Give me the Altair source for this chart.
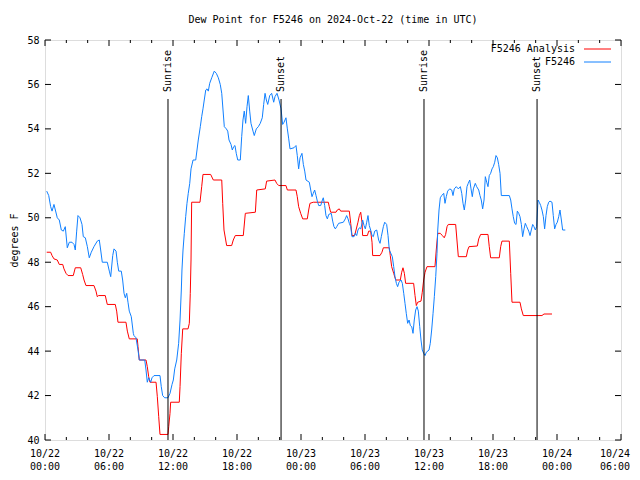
import altair as alt
import pandas as pd

# ---------------- data (hours since 2024-10-22 00:00 UTC, degrees F) ----------------
obs_hours = [0.16, 0.35, 0.53, 0.66, 0.84, 0.97, 1.15, 1.34, 1.53, 1.72, 1.90, 2.09, 2.28, 2.53, 2.72,
             2.84, 2.97, 3.09, 3.28, 3.47, 3.59, 3.78, 3.97, 4.15, 4.34, 4.59, 4.90, 5.09, 5.22, 5.37,
             5.84, 6.03, 6.16, 6.35, 6.47, 6.66, 6.78, 6.91, 7.15, 7.28, 7.41, 7.53, 7.66, 7.78, 7.90,
             8.09, 8.28, 8.34, 8.53, 8.72, 8.84, 9.35, 9.47, 9.59, 9.72, 9.91, 10.03, 10.22, 10.78,
             10.90, 11.03, 11.22, 11.53, 11.72, 11.91, 12.03, 12.16, 12.35, 12.53, 12.66, 12.78, 12.84,
             12.94, 13.06, 13.19, 13.31, 13.43, 13.57, 13.69, 13.88, 14.13, 14.25, 14.37, 14.56, 14.69,
             14.81, 14.93, 15.07, 15.19, 15.31, 15.44, 15.63, 15.87, 16.06, 16.25, 16.43, 16.57, 16.69,
             16.81, 17.00, 17.13, 17.25, 17.44, 17.56, 17.69, 17.81, 17.93, 18.07, 18.31, 18.44, 18.56,
             18.68, 18.75, 18.81, 18.94, 19.06, 19.19, 19.31, 19.50, 19.62, 19.81, 20.00, 20.18, 20.37,
             20.50, 20.63, 20.75, 20.88, 21.07, 21.25, 21.44, 21.56, 21.75, 21.94, 22.13, 22.28, 22.41,
             22.59, 22.72, 22.85, 22.97, 23.34, 23.53, 23.65, 23.78, 23.91, 24.09, 24.22, 24.35, 24.47,
             24.78, 24.91, 25.03, 25.15, 25.28, 25.41, 25.53, 25.66, 25.85, 25.97, 26.09, 26.22, 26.34,
             26.47, 26.60, 26.84, 26.97, 27.09, 27.22, 27.35, 27.53, 27.97, 28.15, 28.28, 28.41, 28.53,
             28.66, 28.78, 28.97, 29.09, 29.22, 29.34, 29.47, 29.60, 29.72, 29.78, 29.91, 30.03, 30.16,
             30.28, 30.40, 30.53, 30.66, 30.78, 30.91, 31.10, 31.28, 31.41, 31.53, 31.72, 31.85, 32.03,
             32.16, 32.28, 32.56, 32.69, 32.81, 32.94, 33.06, 33.19, 33.38, 33.50, 33.63, 33.75, 33.87,
             34.00, 34.13, 34.25, 34.38, 34.50, 34.62, 34.75, 34.88, 35.00, 35.13, 35.25, 35.37, 35.50,
             35.63, 35.75, 36.00, 36.12, 36.25, 36.38, 36.50, 36.63, 36.75, 36.82, 36.94, 37.06, 37.19,
             37.38, 37.50, 37.62, 37.75, 37.94, 38.13, 38.25, 38.37, 38.56, 38.75, 38.94, 39.07, 39.19,
             39.31, 39.44, 39.56, 39.68, 39.82, 39.94, 40.06, 40.16, 40.34, 40.47, 40.66, 40.78, 40.90,
             41.03, 41.16, 41.28, 41.41, 41.53, 41.65, 41.78, 41.91, 42.03, 42.16, 42.28, 42.41, 42.53,
             42.66, 42.78, 43.53, 43.66, 43.78, 43.90, 44.03, 44.16, 44.28, 44.41, 44.53, 44.66, 44.78,
             44.91, 45.03, 45.16, 45.35, 45.47, 45.59, 45.72, 45.84, 45.97, 46.09, 46.22, 46.34, 46.47,
             46.59, 46.72, 46.84, 46.97, 47.09, 47.22, 47.34, 47.53, 47.65, 47.78, 47.91, 48.03, 48.16,
             48.28, 48.41, 48.53, 48.78]
obs_values = [51.2, 51.0, 50.5, 50.3, 50.6, 50.35, 50.0, 49.9, 49.45, 49.4, 49.6, 48.65, 48.9, 48.9, 48.8,
              48.55, 49.4, 50.1, 50.0, 49.7, 49.15, 49.1, 48.7, 48.2, 48.45, 48.7, 48.95, 49.0, 48.55, 48.0,
              48.0, 47.6, 47.35, 48.3, 48.6, 48.5, 48.0, 47.6, 47.6, 47.2, 46.6, 46.4, 46.6, 46.2, 45.8,
              45.55, 44.8, 44.7, 44.6, 44.05, 43.6, 43.6, 43.15, 42.6, 42.8, 42.6, 42.8, 42.9, 42.9,
              42.4, 42.0, 41.9, 41.9, 42.1, 42.5, 42.7, 43.2, 43.6, 44.35, 45.4, 46.75, 47.65,
              48.55, 49.3, 50.05, 50.65, 51.1, 51.55, 52.2, 52.6, 52.6, 53.05, 53.5, 54.1, 54.55,
              54.9, 55.3, 55.75, 55.8, 55.7, 56.05, 56.3, 56.6, 56.5, 56.3, 56.0, 55.6, 54.85,
              54.1, 54.0, 53.9, 53.5, 53.3, 53.05, 53.2, 53.25, 52.9, 52.6, 52.6, 53.65, 54.4,
              54.8, 54.5, 54.25, 55.0, 55.5, 54.8, 54.25, 53.9, 53.7, 54.0, 54.1, 54.25, 54.5,
              55.1, 55.6, 55.3, 55.1, 55.5, 55.6, 55.2, 55.45, 55.6, 55.3, 54.9, 54.2, 54.3,
              54.5, 54.0, 53.55, 53.1, 53.15, 53.25, 52.8, 52.2, 52.7, 52.9, 52.4, 52.1, 51.7,
              51.6, 51.25, 50.95, 51.1, 51.25, 51.0, 50.75, 50.55, 50.55, 50.75, 50.9, 50.55, 50.1,
              49.95, 50.15, 50.2, 49.85, 49.6, 49.5, 49.6, 49.75, 49.8, 49.95, 50.1, 49.95, 49.75,
              49.6, 49.15, 49.15, 49.3, 49.2, 49.45, 49.55, 49.5, 49.75, 49.9, 49.65, 49.5, 49.8,
              50.1, 49.65, 49.45, 49.2, 49.15, 49.4, 49.45, 49.0, 48.85, 49.15, 49.6, 49.8, 49.7,
              49.2, 48.55, 48.25, 47.8, 47.35, 47.05, 46.9, 47.1, 47.2, 47.05, 46.6, 46.15, 45.7,
              45.25, 45.4, 45.15, 45.1, 44.8, 45.4, 45.85, 46.0, 45.8, 45.1, 44.5, 44.05, 43.9,
              43.8, 43.95, 44.05, 44.35, 44.95, 45.7, 46.45, 47.35, 48.4, 49.45, 50.35, 50.9, 51.0,
              51.1, 50.65, 50.95, 51.2, 51.3, 51.25, 51.0, 51.3, 51.4, 51.3, 51.4, 51.1, 50.65,
              50.35, 50.8, 51.4, 51.55, 51.7, 51.3, 50.95, 51.3, 51.55, 51.4, 51.25, 51.0, 50.8,
              50.4, 50.8, 51.85, 51.6, 51.4, 51.9, 52.0, 52.2, 52.3, 52.5, 52.8, 52.7, 52.4,
              52.0, 51.0, 51.0, 50.8, 50.4, 50.05, 49.75, 49.7, 50.3, 50.2, 50.05, 49.7, 49.15,
              49.5, 49.75, 49.6, 49.4, 49.2, 49.45, 49.7, 49.6, 49.45, 49.6, 50.8, 50.7, 50.55,
              50.35, 50.05, 49.5, 50.1, 50.5, 50.7, 50.75, 50.7, 50.1, 49.5, 49.7, 49.8, 50.05,
              50.35, 49.9, 49.45, 49.45]

ana_hours = [0.16, 0.53, 0.66, 0.84, 1.15, 1.34, 1.66, 1.78, 1.97, 2.16, 2.65, 2.84, 3.35, 3.53, 3.66,
             3.84, 4.59, 4.78, 4.90, 5.03, 5.65, 5.84, 6.59, 6.72, 6.84, 7.59, 7.72, 7.90, 8.65, 8.72,
             8.84, 9.47, 9.59, 9.72, 9.84, 10.41, 10.53, 10.66, 10.78, 11.53, 11.60, 11.72, 11.78, 12.59,
             12.66, 12.78, 12.91, 13.41, 13.53, 13.62, 13.69, 13.75, 14.53, 14.69, 14.81, 15.53, 15.78,
             16.57, 16.66, 16.78, 17.03, 17.50, 17.65, 17.84, 18.59, 18.78, 19.72, 19.85, 20.65, 20.78,
             21.56, 21.72, 21.91, 22.59, 22.72, 23.53, 23.65, 23.78, 23.97, 24.16, 24.59, 24.72, 24.84,
             25.15, 26.56, 26.65, 26.78, 27.28, 27.40, 27.59, 27.72, 28.53, 28.66, 28.78, 29.03, 29.16,
             29.34, 29.47, 29.60, 29.72, 29.78, 30.22, 30.35, 30.53, 30.66, 30.72, 31.41, 31.59, 31.72,
             32.28, 32.37, 32.50, 32.69, 32.88, 33.31, 33.44, 33.56, 33.69, 33.81, 34.56, 34.69, 34.81,
             34.94, 35.25, 35.37, 35.50, 35.63, 35.81, 36.56, 36.68, 36.82, 37.06, 37.25, 37.43, 37.56,
             37.69, 37.81, 38.50, 38.62, 38.75, 39.50, 39.63, 39.75, 40.53, 40.66, 40.84, 41.53, 41.65,
             41.78, 42.59, 42.72, 42.84, 43.53, 43.66, 43.78, 44.53, 44.66, 44.84, 46.59, 46.78, 47.53]
ana_values = [48.45, 48.45, 48.3, 48.15, 48.1, 47.9, 47.9, 47.7, 47.5, 47.4, 47.4, 47.75, 47.75, 47.45, 47.2,
              46.95, 46.95, 46.7, 46.45, 46.5, 46.5, 46.1, 46.1, 45.8, 45.3, 45.3, 44.9, 44.55, 44.55, 44.2,
              43.6, 43.6, 43.3, 42.85, 42.6, 42.6, 41.95, 41.05, 40.25, 40.25, 40.6, 41.2, 41.7, 41.7,
              42.4, 43.9, 45.0, 45.0, 45.25, 46.6, 48.1, 50.7, 50.7, 51.4, 51.95, 51.95, 51.7,
              51.7, 50.65, 49.45, 48.75, 48.75, 49.0, 49.2, 49.2, 50.2, 50.25, 51.25, 51.3, 51.65,
              51.7, 51.55, 51.45, 51.45, 51.25, 51.25, 50.95, 50.5, 50.2, 49.95, 49.95, 50.35, 50.65,
              50.7, 50.7, 50.5, 50.25, 50.25, 50.35, 50.4, 50.3, 50.3, 49.75, 49.2, 49.2, 49.45,
              49.8, 50.1, 50.25, 49.8, 49.2, 49.2, 49.4, 49.4, 48.9, 48.3, 48.3, 48.45, 48.65,
              48.65, 48.3, 47.8, 47.5, 47.2, 47.2, 47.55, 47.75, 47.5, 47.05, 47.05, 46.5, 46.05,
              46.2, 46.25, 46.65, 47.2, 47.55, 47.8, 47.8, 48.55, 49.3, 49.3, 49.2, 49.1, 49.25,
              49.6, 49.7, 49.7, 49.0, 48.25, 48.25, 48.55, 48.7, 48.73, 49.05, 49.25, 49.25, 48.7,
              48.2, 48.2, 48.7, 48.95, 48.95, 47.5, 46.2, 46.2, 45.9, 45.6, 45.6, 45.67, 45.67]

event_hours = [11.53, 22.13, 35.53, 46.13]
event_labels = ["Sunrise", "Sunset", "Sunrise", "Sunset"]

tick_hours = [0, 6, 12, 18, 24, 30, 36, 42, 48, 54]
tick_dates = ["10/22", "10/22", "10/22", "10/22", "10/23", "10/23", "10/23", "10/23", "10/24", "10/24"]
tick_times = ["00:00", "06:00", "12:00", "18:00", "00:00", "06:00", "12:00", "18:00", "00:00", "06:00"]
minor_hours = [h for h in range(0, 55, 2) if h % 6 != 0]
y_ticks = [40, 42, 44, 46, 48, 50, 52, 54, 56, 58]

series_names = ["F5246 Analysis", "F5246"]
series_colors = ["#ff0000", "#1080ff"]

FONT = "DejaVu Sans Mono"
W, H = 576, 400

# ---------------- frames ----------------
obs_df = pd.DataFrame({"h": obs_hours, "v": obs_values})
ana_df = pd.DataFrame({"h": ana_hours, "v": ana_values})
ev_df = pd.DataFrame({"h": event_hours, "label": event_labels})
maj_df = pd.DataFrame({"h": tick_hours})
min_df = pd.DataFrame({"h": minor_hours})
yt_df = pd.DataFrame({"v": y_ticks})
xl_df = pd.DataFrame({"h": tick_hours, "d": tick_dates, "t": tick_times})
leg_df = pd.DataFrame({"name": series_names, "color": series_colors, "row": [0, 1]})

xscale = alt.Scale(domain=[0, 54], nice=False, zero=False)
yscale = alt.Scale(domain=[40, 58], nice=False, zero=False)
rowscale = alt.Scale(domain=[0, 1], range=[9, 22], nice=False, zero=False)

yaxis = alt.Axis(values=y_ticks, ticks=False, domain=False, grid=False, title="degrees F",
                 titleFont=FONT, titleFontSize=10, titleFontWeight="normal", titleColor="black",
                 titlePadding=7, labelFont=FONT, labelFontSize=10, labelColor="black", labelPadding=6)

ana_line = alt.Chart(ana_df).mark_line(color=series_colors[0], strokeWidth=1).encode(
    x=alt.X("h:Q", scale=xscale, axis=None),
    y=alt.Y("v:Q", scale=yscale, axis=yaxis),
)
obs_line = alt.Chart(obs_df).mark_line(color=series_colors[1], strokeWidth=1).encode(
    x=alt.X("h:Q", scale=xscale, axis=None),
    y=alt.Y("v:Q", scale=yscale, axis=None),
)

ev_rules = alt.Chart(ev_df).mark_rule(color="black", strokeWidth=1).encode(
    x=alt.X("h:Q", scale=xscale, axis=None), y=alt.value(59), y2=alt.value(H))
ev_text = alt.Chart(ev_df).mark_text(font=FONT, fontSize=10, angle=270, align="left",
                                     baseline="middle", color="black").encode(
    x=alt.X("h:Q", scale=xscale, axis=None), y=alt.value(52), text="label:N")

maj_bot = alt.Chart(maj_df).mark_rule(color="black").encode(
    x=alt.X("h:Q", scale=xscale, axis=None), y=alt.value(H), y2=alt.value(H - 6))
maj_top = alt.Chart(maj_df).mark_rule(color="black").encode(
    x=alt.X("h:Q", scale=xscale, axis=None), y=alt.value(0), y2=alt.value(6))
min_bot = alt.Chart(min_df).mark_rule(color="black").encode(
    x=alt.X("h:Q", scale=xscale, axis=None), y=alt.value(H), y2=alt.value(H - 3))
min_top = alt.Chart(min_df).mark_rule(color="black").encode(
    x=alt.X("h:Q", scale=xscale, axis=None), y=alt.value(0), y2=alt.value(3))
y_left = alt.Chart(yt_df).mark_rule(color="black").encode(
    y=alt.Y("v:Q", scale=yscale, axis=None), x=alt.value(0), x2=alt.value(6))
y_right = alt.Chart(yt_df).mark_rule(color="black").encode(
    y=alt.Y("v:Q", scale=yscale, axis=None), x=alt.value(W), x2=alt.value(W - 6))

# x tick labels (two lines: date / time); the last one is nudged left to stay on the page
def xlabels(field, ypix, last):
    base = alt.Chart(xl_df).transform_filter(
        "datum.h >= 54" if last else "datum.h < 54"
    )
    return base.mark_text(font=FONT, fontSize=10, align="center", baseline="middle",
                          color="black", dx=-6 if last else 0).encode(
        x=alt.X("h:Q", scale=xscale, axis=None), y=alt.value(ypix), text=f"{field}:N")

x_labels = [xlabels("d", H + 14, False), xlabels("t", H + 27, False),
            xlabels("d", H + 14, True), xlabels("t", H + 27, True)]

leg_text = alt.Chart(leg_df).mark_text(font=FONT, fontSize=10, align="right", baseline="middle",
                                       color="black").encode(
    x=alt.value(530), y=alt.Y("row:Q", axis=None, scale=rowscale), text="name:N")
leg_line = alt.Chart(leg_df).mark_rule(strokeWidth=1).encode(
    x=alt.value(539), x2=alt.value(566),
    y=alt.Y("row:Q", axis=None, scale=rowscale),
    color=alt.Color("color:N", scale=None))

chart = alt.layer(
    ana_line, obs_line, ev_rules, ev_text,
    maj_bot, maj_top, min_bot, min_top, y_left, y_right,
    *x_labels, leg_text, leg_line,
).resolve_scale(y="independent").properties(
    width=W, height=H,
    title=alt.TitleParams("Dew Point for F5246 on 2024-Oct-22 (time in UTC)", font=FONT, fontSize=10,
                          fontWeight="normal", color="black", anchor="middle", offset=10),
    autosize=alt.AutoSizeParams(type="none"),
    padding={"left": 37, "top": 32, "right": 11, "bottom": 32},
).configure_view(stroke="black", strokeWidth=1).configure(background="white")

chart.save("out.html", embed_options={"renderer": "svg", "actions": False})
